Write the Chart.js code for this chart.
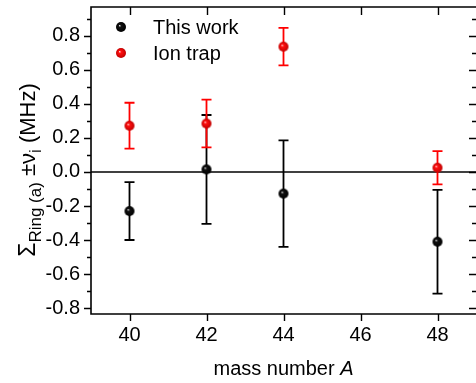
<!DOCTYPE html>
<html>
<head>
<meta charset="utf-8">
<script src="https://cdn.jsdelivr.net/npm/chart.js@4.4.1/dist/chart.umd.min.js"></script>
<style>
  html, body { margin: 0; padding: 0; background: #fff; }
</style>
</head>
<body>
<canvas id="chart" width="476" height="383"></canvas>
<script>
// data
const massNumbers = [40, 42, 44, 48];
const thisWork = [-0.23, 0.015, -0.127, -0.41];
const thisWorkErr = [0.17, 0.32, 0.313, 0.305];
const ionTrap = [0.272, 0.285, 0.737, 0.025];
const ionTrapErr = [0.135, 0.14, 0.11, 0.098];

// axes
const xTicks = [40, 42, 44, 46, 48];
const yTicks = [-0.8, -0.6, -0.4, -0.2, 0.0, 0.2, 0.4, 0.6, 0.8];
const yMinorTicks = [-0.7, -0.5, -0.3, -0.1, 0.1, 0.3, 0.5, 0.7, 0.9];

const FONT = '"Liberation Sans", Arial, sans-serif';

function makeSphere(base, dark, light, r) {
    const s = Math.ceil(r * 2) + 2;
    const c = document.createElement('canvas');
    c.width = s;
    c.height = s;
    const g = c.getContext('2d');
    const cx = s / 2;
    const grad = g.createRadialGradient(cx - r * 0.3, cx - r * 0.3, 0, cx, cx, r);
    grad.addColorStop(0, light);
    grad.addColorStop(0.3, base);
    grad.addColorStop(1, dark);
    g.fillStyle = grad;
    g.beginPath();
    g.arc(cx, cx, r, 0, Math.PI * 2);
    g.fill();
    return c;
}

const blackBall = makeSphere('#111', '#000', '#d8d8d8', 5);
const redBall = makeSphere('#ff1010', '#c00000', '#ffd0d0', 5);

function toPoints(ys) {
    return massNumbers.map((x, i) => ({ x: x, y: ys[i] }));
}

// error bars, zero line, frame and ticks
const decorations = {
    id: 'decorations',
    beforeDatasetsDraw(chart) {
        const ctx = chart.ctx;
        const xs = chart.scales.x;
        const ys = chart.scales.y;
        const area = chart.chartArea;

        ctx.save();
        // zero line
        ctx.strokeStyle = '#000';
        ctx.lineWidth = 1.6;
        const y0 = ys.getPixelForValue(0);
        ctx.beginPath();
        ctx.moveTo(area.left, y0);
        ctx.lineTo(area.right, y0);
        ctx.stroke();

        const sets = [
            { vals: thisWork, errs: thisWorkErr, color: '#000' },
            { vals: ionTrap, errs: ionTrapErr, color: '#ff0000' }
        ];
        sets.forEach(set => {
            ctx.strokeStyle = set.color;
            ctx.lineWidth = 1.8;
            massNumbers.forEach((m, i) => {
                const px = xs.getPixelForValue(m);
                const top = ys.getPixelForValue(set.vals[i] + set.errs[i]);
                const bot = ys.getPixelForValue(set.vals[i] - set.errs[i]);
                ctx.beginPath();
                ctx.moveTo(px, top);
                ctx.lineTo(px, bot);
                ctx.moveTo(px - 5, top);
                ctx.lineTo(px + 5, top);
                ctx.moveTo(px - 5, bot);
                ctx.lineTo(px + 5, bot);
                ctx.stroke();
            });
        });
        ctx.restore();
    },
    afterDraw(chart) {
        const ctx = chart.ctx;
        const xs = chart.scales.x;
        const ys = chart.scales.y;
        const area = chart.chartArea;

        ctx.save();
        ctx.strokeStyle = '#000';
        ctx.lineWidth = 1.6;
        // frame (right edge falls outside the picture)
        ctx.beginPath();
        ctx.moveTo(area.right + 2, area.top);
        ctx.lineTo(area.left, area.top);
        ctx.lineTo(area.left, area.bottom);
        ctx.lineTo(area.right + 2, area.bottom);
        ctx.stroke();

        ctx.lineWidth = 1.4;
        ctx.beginPath();
        yTicks.forEach(v => {
            const py = Math.round(ys.getPixelForValue(v)) + 0.5;
            ctx.moveTo(area.left - 7, py);
            ctx.lineTo(area.left, py);
            ctx.moveTo(area.right, py);
            ctx.lineTo(area.right - 7, py);
        });
        yMinorTicks.forEach(v => {
            const py = Math.round(ys.getPixelForValue(v)) + 0.5;
            ctx.moveTo(area.left - 4, py);
            ctx.lineTo(area.left, py);
            ctx.moveTo(area.right, py);
            ctx.lineTo(area.right - 4, py);
        });
        xTicks.forEach(v => {
            const px = Math.round(xs.getPixelForValue(v)) + 0.5;
            ctx.moveTo(px, area.bottom);
            ctx.lineTo(px, area.bottom + 7);
            ctx.moveTo(px, area.top);
            ctx.lineTo(px, area.top + 8);
        });
        ctx.stroke();

        // x title with italic A
        ctx.fillStyle = '#000';
        ctx.textBaseline = 'alphabetic';
        const xTitleY = 375;
        ctx.font = '20px ' + FONT;
        const part1 = 'mass number ';
        const w1 = ctx.measureText(part1).width;
        ctx.font = 'italic 20px ' + FONT;
        const w2 = ctx.measureText('A').width;
        let sx = (area.left + area.right) / 2 - (w1 + w2) / 2;
        ctx.font = '20px ' + FONT;
        ctx.textAlign = 'left';
        ctx.fillText(part1, sx, xTitleY);
        ctx.font = 'italic 20px ' + FONT;
        ctx.fillText('A', sx + w1, xTitleY);

        // y title with subscripts
        const parts = [
            { t: '\u03A3', size: 23, dy: 0 },
            { t: 'Ring (a)', size: 17, dy: 6 },
            { t: ' \u00B1', size: 22, dy: 0 },
            { t: '\u03BD', size: 22, dy: 0 },
            { t: 'i', size: 17, dy: 6 },
            { t: ' (MHz)', size: 22, dy: 0 }
        ];
        let total = 0;
        parts.forEach(p => {
            ctx.font = p.size + 'px ' + FONT;
            p.w = ctx.measureText(p.t).width;
            total += p.w;
        });
        ctx.translate(35, 170);
        ctx.rotate(-Math.PI / 2);
        let cx = -total / 2;
        parts.forEach(p => {
            ctx.font = p.size + 'px ' + FONT;
            ctx.fillText(p.t, cx, p.dy);
            cx += p.w;
        });
        ctx.restore();

        // legend
        ctx.save();
        ctx.fillStyle = '#000';
        ctx.font = '20px ' + FONT;
        ctx.textBaseline = 'middle';
        ctx.textAlign = 'left';
        const entries = chart.data.datasets;
        entries.forEach((ds, i) => {
            const ly = 27 + i * 26;
            const img = ds.pointStyle;
            ctx.drawImage(img, 121 - img.width / 2, ly - img.height / 2);
            ctx.fillText(ds.label, 153, ly + 1);
        });
        ctx.restore();
    }
};

new Chart(document.getElementById('chart'), {
    type: 'scatter',
    data: {
        datasets: [
            {
                label: 'This work',
                data: toPoints(thisWork),
                pointStyle: blackBall,
                pointRadius: 5
            },
            {
                label: 'Ion trap',
                data: toPoints(ionTrap),
                pointStyle: redBall,
                pointRadius: 5
            }
        ]
    },
    plugins: [decorations],
    options: {
        responsive: false,
        animation: false,
        devicePixelRatio: 1,
        layout: { autoPadding: false, padding: { top: 7, right: 0, bottom: 0, left: 0 } },
        plugins: {
            legend: { display: false },
            tooltip: { enabled: false },
            title: { display: false }
        },
        scales: {
            x: {
                type: 'linear',
                min: 39,
                max: 49,
                grid: { display: false, drawTicks: false },
                border: { display: false },
                afterBuildTicks: scale => { scale.ticks = xTicks.map(v => ({ value: v })); },
                afterFit: scale => {
                    scale.height = 69;
                    scale.paddingLeft = 0;
                    scale.paddingRight = 0;
                },
                ticks: {
                    color: '#000',
                    padding: 9,
                    maxRotation: 0,
                    font: { family: FONT, size: 20 },
                    callback: v => String(v)
                }
            },
            y: {
                type: 'linear',
                min: -0.835,
                max: 0.97,
                grid: { display: false, drawTicks: false },
                border: { display: false },
                afterBuildTicks: scale => { scale.ticks = yTicks.map(v => ({ value: v })); },
                afterFit: scale => {
                    scale.width = 91;
                    scale.paddingTop = 0;
                    scale.paddingBottom = 0;
                },
                ticks: {
                    color: '#000',
                    padding: 11,
                    font: { family: FONT, size: 20 },
                    callback: v => v.toFixed(1)
                }
            }
        }
    }
});
</script>
</body>
</html>
